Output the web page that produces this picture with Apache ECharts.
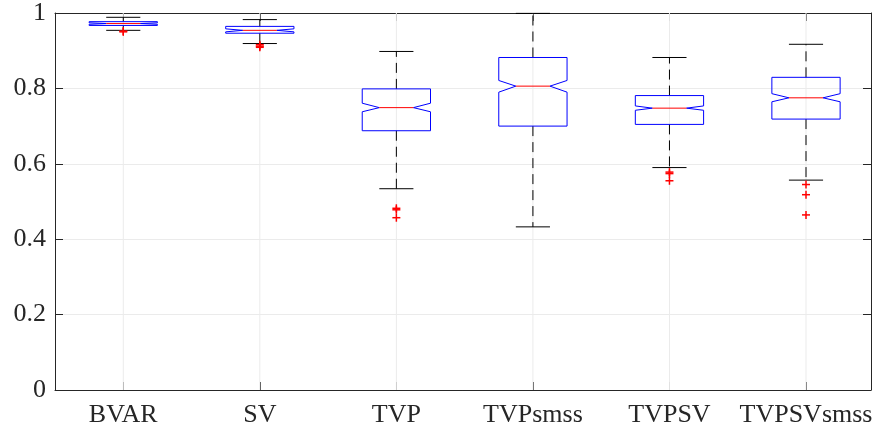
<!DOCTYPE html>
<html>
<head>
<meta charset="utf-8">
<script src="https://cdn.jsdelivr.net/npm/echarts@6/dist/echarts.min.js"></script>
<style>
  html, body { margin: 0; padding: 0; background: #fff; }
  #chart { width: 877px; height: 430px; }
</style>
</head>
<body>
<div id="chart"></div>
<script>
// Model names along the x axis
const categories = ['BVAR', 'SV', 'TVP', 'TVPsmss', 'TVPSV', 'TVPSVsmss'];

// Five-number summaries plus notch bounds, one entry per model
const upperWhisker = [0.9886, 0.9825, 0.898, 0.999, 0.882, 0.917];
const q3           = [0.977, 0.9645, 0.7987, 0.882, 0.781, 0.8294];
const notchHigh    = [0.974, 0.958, 0.7607, 0.821, 0.7535, 0.786];
const median       = [0.972, 0.954, 0.749, 0.806, 0.7476, 0.775];
const notchLow     = [0.970, 0.950, 0.738, 0.790, 0.742, 0.7645];
const q1           = [0.967, 0.9464, 0.6877, 0.700, 0.7045, 0.7186];
const lowerWhisker = [0.954, 0.919, 0.5339, 0.4327, 0.590, 0.5567];

// Points beyond the whiskers
const outliers = [
  [0.952, 0.950],
  [0.916, 0.912, 0.909],
  [0.482, 0.478, 0.457],
  [],
  [0.578, 0.574, 0.555],
  [0.545, 0.518, 0.4644]
];

// Y axis ticks
const yTicks = [0, 0.2, 0.4, 0.6, 0.8, 1];

const positions = categories.map((_, i) => i + 1);

const boxData = categories.map((_, i) => [
  i + 1, lowerWhisker[i], q1[i], notchLow[i], median[i], notchHigh[i], q3[i], upperWhisker[i]
]);

const outlierData = [];
outliers.forEach((vals, i) => vals.forEach(v => outlierData.push([i + 1, v])));

const ink = '#262626';
const gridColor = '#ebebeb';
const serif = '"Liberation Serif", "Times New Roman", serif';

function renderBox(params, api) {
  const x = api.value(0);
  const unit = api.size([1, 0])[0];
  const half = unit * 0.25;      // box half-width
  const notchIn = unit * 0.125;  // notch indentation
  const capHalf = unit * 0.125;  // whisker cap half-width
  const P = v => api.coord([x, v]);
  const lw = P(api.value(1)), b1 = P(api.value(2)), nl = P(api.value(3)),
        md = P(api.value(4)), nh = P(api.value(5)), b3 = P(api.value(6)), uw = P(api.value(7));
  const cx = md[0];
  const dash = { stroke: '#000', lineWidth: 1, lineDash: [10, 6] };
  const solid = { stroke: '#000', lineWidth: 1 };
  return {
    type: 'group',
    children: [
      { type: 'line', shape: { x1: cx, y1: b3[1], x2: cx, y2: uw[1] }, style: dash },
      { type: 'line', shape: { x1: cx, y1: b1[1], x2: cx, y2: lw[1] }, style: dash },
      { type: 'line', shape: { x1: cx - capHalf, y1: uw[1], x2: cx + capHalf, y2: uw[1] }, style: solid },
      { type: 'line', shape: { x1: cx - capHalf, y1: lw[1], x2: cx + capHalf, y2: lw[1] }, style: solid },
      {
        type: 'polygon',
        shape: {
          points: [
            [cx - half, b1[1]], [cx - half, nl[1]], [cx - half + notchIn, md[1]],
            [cx - half, nh[1]], [cx - half, b3[1]], [cx + half, b3[1]],
            [cx + half, nh[1]], [cx + half - notchIn, md[1]], [cx + half, nl[1]],
            [cx + half, b1[1]]
          ]
        },
        style: { fill: 'none', stroke: '#0000ff', lineWidth: 1 }
      },
      { type: 'line', shape: { x1: cx - half + notchIn, y1: md[1], x2: cx + half - notchIn, y2: md[1] },
        style: { stroke: '#ff0000', lineWidth: 1 } }
    ]
  };
}

function renderPlus(params, api) {
  const p = api.coord([api.value(0), api.value(1)]);
  const r = 4;
  const st = { stroke: '#ff0000', lineWidth: 1.5 };
  return {
    type: 'group',
    children: [
      { type: 'line', shape: { x1: p[0] - r, y1: p[1], x2: p[0] + r, y2: p[1] }, style: st },
      { type: 'line', shape: { x1: p[0], y1: p[1] - r, x2: p[0], y2: p[1] + r }, style: st }
    ]
  };
}

const chart = echarts.init(document.getElementById('chart'), null, { renderer: 'canvas' });

chart.setOption({
  animation: false,
  backgroundColor: '#fff',
  grid: { left: 55, right: 6, top: 11, bottom: 40, containLabel: false },
  xAxis: [
    {
      type: 'value', min: 0.5, max: 6.476, position: 'bottom',
      axisLine: { show: true, onZero: false, lineStyle: { color: ink, width: 1 } },
      axisTick: { show: true, inside: true, length: 8, customValues: positions, lineStyle: { color: ink } },
      axisLabel: {
        show: true, customValues: positions, margin: 12,
        formatter: v => categories[Math.round(v) - 1] || '',
        color: ink, fontFamily: serif, fontSize: 26
      },
      splitLine: { show: false }
    },
    {
      type: 'value', min: 0.5, max: 6.476, position: 'top',
      axisLine: { show: true, onZero: false, lineStyle: { color: ink, width: 1 } },
      axisTick: { show: true, inside: true, length: 8, customValues: positions, lineStyle: { color: ink } },
      axisLabel: { show: false },
      splitLine: { show: false }
    }
  ],
  yAxis: [
    {
      type: 'value', min: 0, max: 1, interval: 0.2, position: 'left',
      axisLine: { show: true, onZero: false, lineStyle: { color: ink, width: 1 } },
      axisTick: { show: true, inside: true, length: 8, lineStyle: { color: ink } },
      axisLabel: {
        show: true, margin: 9, color: ink, fontFamily: serif, fontSize: 26,
        padding: [3, 0, 0, 0],
        formatter: v => String(+v.toFixed(1))
      },
      splitLine: { show: true, lineStyle: { color: gridColor, width: 1 } }
    },
    {
      type: 'value', min: 0, max: 1, interval: 0.2, position: 'right',
      axisLine: { show: true, onZero: false, lineStyle: { color: ink, width: 1 } },
      axisTick: { show: true, inside: true, length: 8, lineStyle: { color: ink } },
      axisLabel: { show: false },
      splitLine: { show: false }
    }
  ],
  series: [
    {
      // vertical grid lines at each model position
      type: 'custom',
      silent: true,
      z: 1,
      data: positions.map(p => [p]),
      renderItem: (params, api) => {
        const top = api.coord([api.value(0), 1]);
        const bot = api.coord([api.value(0), 0]);
        return { type: 'line', shape: { x1: top[0], y1: top[1], x2: bot[0], y2: bot[1] },
                 style: { stroke: gridColor, lineWidth: 1 } };
      }
    },
    {
      type: 'custom',
      z: 3,
      data: boxData,
      encode: { x: 0, y: [1, 2, 3, 4, 5, 6, 7] },
      renderItem: renderBox
    },
    {
      type: 'custom',
      z: 4,
      data: outlierData,
      encode: { x: 0, y: 1 },
      renderItem: renderPlus
    }
  ]
});
</script>
</body>
</html>
